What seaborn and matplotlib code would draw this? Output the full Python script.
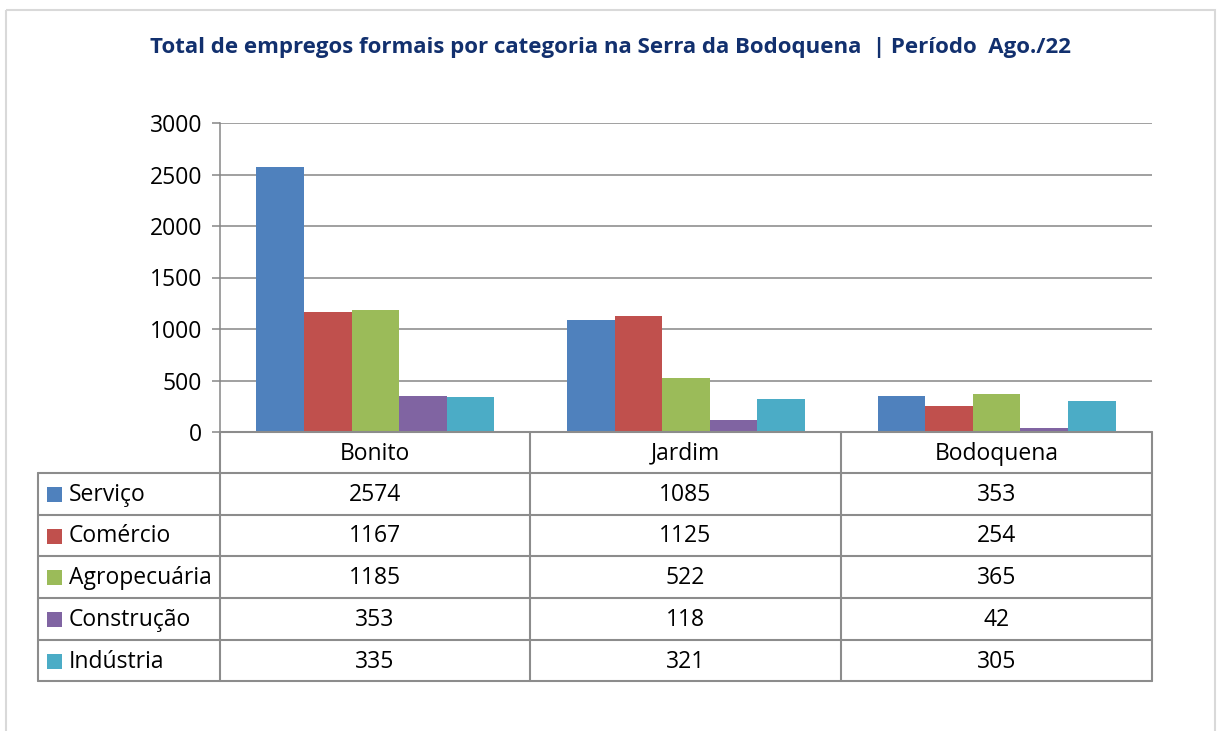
import pandas as pd
import matplotlib.pyplot as plt
import seaborn as sns
from matplotlib.patches import Rectangle

# data
cidades = ["Bonito", "Jardim", "Bodoquena"]
categorias = ["Serviço", "Comércio", "Agropecuária", "Construção", "Indústria"]
servico = [2574, 1085, 353]
comercio = [1167, 1125, 254]
agropecuaria = [1185, 522, 365]
construcao = [353, 118, 42]
industria = [335, 321, 305]
cores = ["#4F81BD", "#C0504D", "#9BBB59", "#8064A2", "#4BACC6"]
yticks = [0, 500, 1000, 1500, 2000, 2500, 3000]

valores = [servico, comercio, agropecuaria, construcao, industria]
df = pd.DataFrame(
    [(c, cat, v) for cat, vals in zip(categorias, valores) for c, v in zip(cidades, vals)],
    columns=["Cidade", "Categoria", "Empregos"],
)

sns.set_theme(style="white")
plt.rcParams["font.family"] = ["Open Sans", "DejaVu Sans"]

W, H = 1218, 731
fig = plt.figure(figsize=(W / 100, H / 100), dpi=100)

# overlay in pixel coords for border, title and data table
ov = fig.add_axes([0, 0, 1, 1])
ov.set_xlim(0, W)
ov.set_ylim(H, 0)
ov.axis("off")
ov.add_patch(Rectangle((6, 10), 1209, 740, fill=False, ec="#D9D9D9", lw=1.5))

L, R, TOP, BOT = 220, 1152, 123, 432
ax = fig.add_axes([L / W, 1 - BOT / H, (R - L) / W, (BOT - TOP) / H])
sns.barplot(data=df, x="Cidade", y="Empregos", hue="Categoria", palette=cores,
            width=0.766, gap=0, saturation=1, ax=ax, legend=False, linewidth=0)
ax.set_xlim(-0.5, 2.5)
ax.set_ylim(0, 3000)
ax.set_yticks(yticks)
ax.set_xticks([])
ax.set_xlabel("")
ax.set_ylabel("")
ax.grid(axis="y", color="#868686", lw=1.1)
ax.set_axisbelow(True)
for s in ["top", "right", "bottom"]:
    ax.spines[s].set_visible(False)
ax.spines["left"].set_color("#868686")
ax.spines["left"].set_linewidth(1.1)
ax.tick_params(axis="y", left=True, length=6, width=1.1, color="#868686",
               labelsize=16.5, pad=7, labelcolor="black")

ov.set_zorder(ax.get_zorder() + 1)
ov.patch.set_alpha(0)

ov.text(610, 47, "Total de empregos formais por categoria na Serra da Bodoquena  | Período  Ago./22",
        ha="center", va="center", fontsize=16, fontweight="bold", color="#12306E")

# data table
lc = "#8C8C8C"
cols = [L, 530, 841, R]
rows = [BOT, 473, 515, 556, 598, 640, 681]
ov.plot([L, R], [BOT, BOT], color=lc, lw=1.5)
for y in rows[1:]:
    ov.plot([38, R], [y, y], color=lc, lw=1.5)
for x in cols:
    ov.plot([x, x], [BOT, rows[-1]], color=lc, lw=1.5)
ov.plot([38, 38], [rows[1], rows[-1]], color=lc, lw=1.5)

for j, c in enumerate(cidades):
    ov.text((cols[j] + cols[j + 1]) / 2, (rows[0] + rows[1]) / 2 + 1, c,
            ha="center", va="center", fontsize=16.5, color="black")
for i, (cat, vals) in enumerate(zip(categorias, valores)):
    yc = (rows[i + 1] + rows[i + 2]) / 2 + 1
    ov.add_patch(Rectangle((47, yc - 8), 15, 15, color=cores[i], lw=0))
    ov.text(69, yc, cat, ha="left", va="center", fontsize=16.5, color="black")
    for j, v in enumerate(vals):
        ov.text((cols[j] + cols[j + 1]) / 2, yc, str(v),
                ha="center", va="center", fontsize=16.5, color="black")

fig.savefig("out.png", dpi=100, facecolor="white")
